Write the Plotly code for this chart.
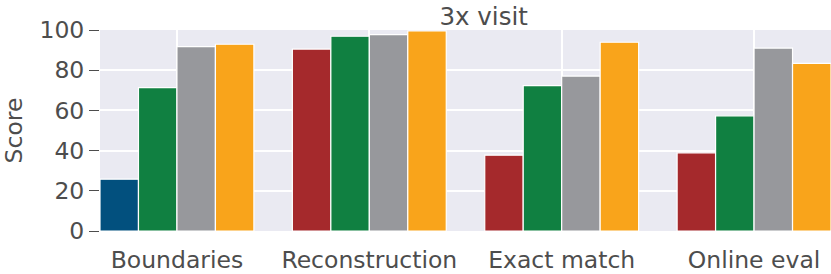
import plotly.graph_objects as go

categories = ["Boundaries", "Reconstruction", "Exact match", "Online eval"]
series_1 = [25.8, 90.5, 37.7, 38.9]
series_2 = [71.3, 96.9, 72.3, 57.3]
series_3 = [91.7, 97.7, 77.1, 91.0]
series_4 = [92.9, 99.5, 93.9, 83.4]
y_ticks = [0, 20, 40, 60, 80, 100]

c_blue = "#02507E"
c_red = "#A5292C"
c_green = "#108041"
c_grey = "#97989C"
c_orange = "#F9A41B"
series_1_colors = [c_blue, c_red, c_red, c_red]

txt = "#4D4D4D"
font = "DejaVu Sans"

fig = go.Figure()
for vals, col in [(series_1, series_1_colors), (series_2, c_green),
                  (series_3, c_grey), (series_4, c_orange)]:
    fig.add_trace(go.Bar(x=categories, y=vals,
                         marker=dict(color=col, line=dict(color="white", width=1.2)),
                         showlegend=False))

fig.update_layout(
    width=831, height=274,
    margin=dict(l=100, r=0, t=30, b=43, autoexpand=False),
    barmode="group", bargap=0.2, bargroupgap=0,
    plot_bgcolor="#EAEAF2", paper_bgcolor="white",
    font=dict(family=font, size=23.5, color=txt),
    title=dict(text="3x visit", x=0.582, xanchor="center", xref="container",
               y=0.94, yanchor="middle", yref="container",
               font=dict(family=font, size=24.5, color=txt)),
)
fig.update_xaxes(range=[-0.4, 3.4], showgrid=True, gridcolor="white", gridwidth=1.5,
                 ticks="outside", ticklen=8, tickcolor="rgba(0,0,0,0)",
                 tickfont=dict(family=font, size=23.5, color=txt), showline=False,
                 zeroline=False, automargin=False)
fig.update_yaxes(range=[0, 100], tickvals=y_ticks, showgrid=True, gridcolor="white",
                 gridwidth=1.5, ticks="outside", ticklen=10, tickcolor=txt, tickwidth=1.3,
                 tickfont=dict(family=font, size=23.5, color=txt), zeroline=False,
                 showline=False, automargin=False,
                 title=dict(text="Score", font=dict(family=font, size=23.5, color=txt),
                            standoff=13))

fig.write_html("out.html", config={"displayModeBar": False},
               post_script="document.body.style.margin='0';document.body.style.overflow='hidden';")
